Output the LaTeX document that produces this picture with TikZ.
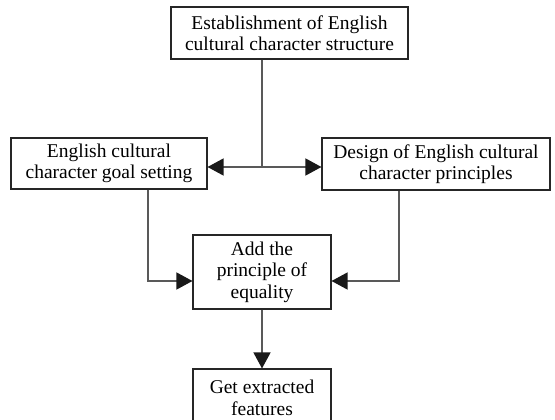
\documentclass[tikz,border=0pt]{standalone}
\usepackage{fontspec}
\setmainfont{Liberation Serif}
\usetikzlibrary{arrows.meta}
\begin{document}
\begin{tikzpicture}[x=1pt,y=-1pt,
  box/.style={draw=black!85,line width=1.1pt,inner sep=0pt,align=center,
    font=\fontsize{19.5}{21.5}\selectfont},
  conn/.style={draw=black!65,line width=1.4pt},
  arr/.style={conn,-{Triangle[length=16pt,width=17pt,fill=black!90,color=black!90]}}]
\clip (0,0) rectangle (555,420);
\useasboundingbox (0,0) rectangle (555,420);
\node[box,minimum width=237pt,minimum height=52pt] (top) at (289.5,33) {Establishment of English\\cultural character structure};
\node[box,minimum width=196pt,minimum height=51pt] (lbox) at (109,163.5) {English cultural\\character goal setting};
\node[box,minimum width=228pt,minimum height=52pt] (rbox) at (436,164) {Design of English cultural\\character principles};
\node[box,minimum width=138pt,minimum height=74pt] (mid) at (262,272) {Add the\\principle of\\equality};
\node[box,minimum width=138pt,minimum height=58pt] (bot) at (262,398) {Get extracted\\features};
\coordinate (j) at (262,167);
\coordinate (lv) at (148,281);
\coordinate (rv) at (399,281);
\draw[conn] (top.south -| j) -- (j);
\draw[arr] (j) -- (j -| lbox.east);
\draw[arr] (j) -- (j -| rbox.west);
\draw[arr] (lv |- lbox.south) -- (lv) -- (lv -| mid.west);
\draw[arr] (rv |- rbox.south) -- (rv) -- (rv -| mid.east);
\draw[arr] (mid.south) -- (bot.north);
\end{tikzpicture}
\end{document}
